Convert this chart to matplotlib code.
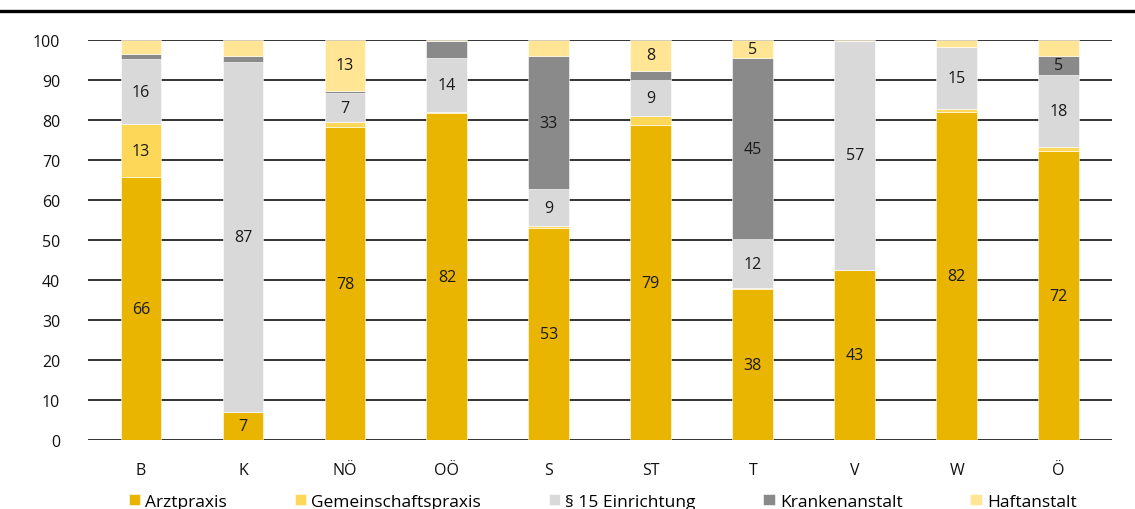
import numpy as np
import matplotlib
matplotlib.use('Agg')
import matplotlib.pyplot as plt
from matplotlib.lines import Line2D

plt.rcParams['font.family'] = ['Open Sans', 'DejaVu Sans']

# Anteile je Bundesland (in %)
laender = ['B', 'K', 'NÖ', 'OÖ', 'S', 'ST', 'T', 'V', 'W', 'Ö']
arztpraxis = [65.8, 7.0, 78.2, 81.8, 53.0, 78.8, 37.8, 42.6, 82.0, 72.3]
gemeinschaftspraxis = [13.1, 0.0, 1.2, 0.2, 0.4, 2.1, 0.2, 0.0, 0.8, 1.0]
einrichtung_15 = [16.3, 87.4, 7.4, 13.5, 9.4, 9.1, 12.2, 57.2, 15.4, 18.0]
krankenanstalt = [1.3, 1.5, 0.5, 4.3, 33.1, 2.3, 45.2, 0.0, 0.1, 4.8]
haftanstalt = [3.5, 4.1, 12.7, 0.2, 4.1, 7.7, 4.6, 0.2, 1.7, 3.9]

serien = ['Arztpraxis', 'Gemeinschaftspraxis', '§ 15 Einrichtung', 'Krankenanstalt', 'Haftanstalt']
werte = [arztpraxis, gemeinschaftspraxis, einrichtung_15, krankenanstalt, haftanstalt]
farben = ['#E9B500', '#FDD757', '#D9D9D9', '#8A8A8A', '#FFE594']

fig = plt.figure(figsize=(11.35, 5.10), dpi=100)
ax = fig.add_axes([0.0775, 0.135, 0.902, 0.7845])

x = np.arange(len(laender))
bottom = np.zeros(len(laender))
for name, vals, col in zip(serien, werte, farben):
    vals = np.array(vals)
    ax.bar(x, vals, 0.4, bottom=bottom, color=col, edgecolor='white',
           linewidth=0.4, zorder=3, label=name)
    for xi, b, v in zip(x, bottom, vals):
        if v >= 4.5:
            ax.text(xi, b + v / 2, f'{v:.0f}', ha='center', va='center',
                    fontsize=11.5, color='#1a1a1a', zorder=4)
    bottom += vals

ax.set_xlim(-0.52, 9.52)
ax.set_ylim(0, 100)
ax.set_yticks(range(0, 101, 10))
ax.set_xticks(x)
ax.set_xticklabels(laender)
ax.yaxis.grid(True, color='#333333', linewidth=1.4, zorder=0)
ax.set_axisbelow(True)
for s in ax.spines.values():
    s.set_visible(False)
ax.tick_params(axis='both', length=0, labelsize=11.5, colors='#111111')
ax.tick_params(axis='y', pad=20)
ax.tick_params(axis='x', pad=16)

# dicke Linie am oberen Rand
fig.add_artist(Line2D([0, 1], [0.976, 0.976], color='black', linewidth=2.4,
                      transform=fig.transFigure))

fig.legend(loc='lower center', bbox_to_anchor=(0.531, -0.032), ncol=5, frameon=False,
           fontsize=12.5, handlelength=0.65, handleheight=0.65, handletextpad=0.3,
           columnspacing=3.9)

fig.savefig('out.png', dpi=100)
